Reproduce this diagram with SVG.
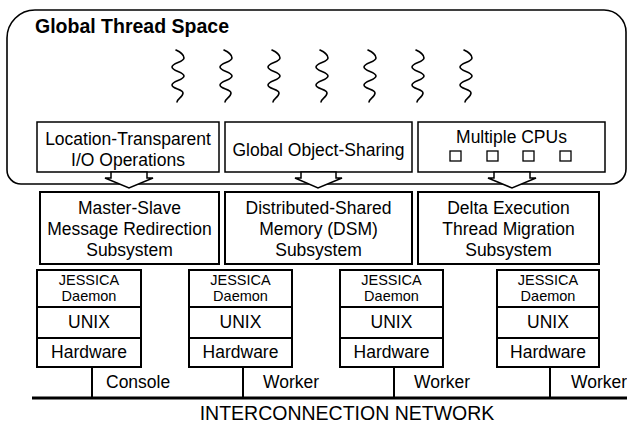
<svg xmlns="http://www.w3.org/2000/svg" width="627" height="423" viewBox="0 0 627 423">
<style>
text{font-family:"Liberation Sans",Arial,sans-serif;fill:#000;text-anchor:middle;font-size:17.5px}
.title{font-weight:bold;font-size:19.5px;text-anchor:start}
.small{font-size:14.5px}
.lbl{text-anchor:start}
.net{font-size:19.5px}
.box{fill:#fff;stroke:#000;stroke-width:1.5}
.mbox{fill:#fff;stroke:#000;stroke-width:2}
.arrow{fill:#fff;stroke:#000;stroke-width:1.5;stroke-linejoin:miter}
.sq{fill:none;stroke:#000;stroke-width:1.6;stroke-linecap:round}
.cpu{fill:#fff;stroke:#000;stroke-width:1.3}
.conn{stroke:#000;stroke-width:2;fill:none}
</style>
<defs>
<path id="squiggle" class="sq" d="M-2,-26 C2,-24 6,-22 6,-18 C6,-14 -6,-13 -6,-9 S6,-4 6,0 S-6,5 -6,9 S5,13 5,17 S-1,23 -1,26"/>
</defs>
<rect width="627" height="423" fill="#fff"/>

<g id="global-thread-space">
<path d="M35,10 H604 A22,22 0 0 1 626,32 V169 A15,15 0 0 1 611,184 H21 A14,14 0 0 1 7,170 V38 A28,28 0 0 1 35,10 Z" fill="#fff" stroke="#000" stroke-width="1.6"/>
<text class="title" x="35" y="33">Global Thread Space</text>
<use href="#squiggle" x="178" y="76"/>
<use href="#squiggle" x="226" y="76"/>
<use href="#squiggle" x="274" y="76"/>
<use href="#squiggle" x="322" y="76"/>
<use href="#squiggle" x="370" y="76"/>
<use href="#squiggle" x="418" y="76"/>
<use href="#squiggle" x="466" y="76"/>
</g>

<g id="io-ops">
<rect class="box" x="37" y="122" width="182" height="50"/>
<text x="128" y="145">Location-Transparent</text>
<text x="128" y="165.5">I/O Operations</text>
</g>
<g id="object-sharing">
<rect class="box" x="225" y="122" width="187" height="50"/>
<text x="318.5" y="156">Global Object-Sharing</text>
</g>
<g id="cpus">
<rect class="box" x="418" y="122" width="187" height="50"/>
<text x="511.5" y="143">Multiple CPUs</text>
<rect class="cpu" x="450" y="151" width="11" height="10"/>
<rect class="cpu" x="487" y="151" width="11" height="10"/>
<rect class="cpu" x="523" y="151" width="11" height="10"/>
<rect class="cpu" x="560" y="151" width="11" height="10"/>
</g>

<g id="connectors">
<polygon class="arrow" points="111,172 111,178 105,178 129,188 153,178 147,178 147,172"/>
<polygon class="arrow" points="301,172 301,178 295,178 318,188 342,178 336,178 336,172"/>
<polygon class="arrow" points="494,172 494,178 488,178 512,188 536,178 530,178 530,172"/>
<line class="conn" x1="92" y1="367" x2="92" y2="398"/>
<line class="conn" x1="243" y1="367" x2="243" y2="398"/>
<line class="conn" x1="394" y1="367" x2="394" y2="398"/>
<line class="conn" x1="550" y1="367" x2="550" y2="398"/>
<line x1="32" y1="398" x2="627" y2="398" stroke="#000" stroke-width="3"/>
</g>

<g id="master-slave">
<rect class="mbox" x="40" y="192" width="179" height="72"/>
<text x="129.5" y="214">Master-Slave</text>
<text x="129.5" y="235">Message Redirection</text>
<text x="129.5" y="256">Subsystem</text>
</g>
<g id="dsm">
<rect class="mbox" x="225" y="192" width="187" height="72"/>
<text x="318.5" y="214">Distributed-Shared</text>
<text x="318.5" y="235">Memory (DSM)</text>
<text x="318.5" y="256">Subsystem</text>
</g>
<g id="migration">
<rect class="mbox" x="418" y="192" width="181" height="72"/>
<text x="508.5" y="214">Delta Execution</text>
<text x="508.5" y="235">Thread Migration</text>
<text x="508.5" y="256">Subsystem</text>
</g>

<g id="node-console">
<rect class="mbox" x="37" y="270" width="104" height="97"/>
<line class="conn" x1="37" y1="307" x2="141" y2="307"/>
<line class="conn" x1="37" y1="338" x2="141" y2="338"/>
<text class="small" x="89" y="284.5">JESSICA</text>
<text class="small" x="89" y="301">Daemon</text>
<text x="89" y="328">UNIX</text>
<text x="89" y="358">Hardware</text>
<text class="lbl" x="106" y="388">Console</text>
</g>
<g id="node-worker1">
<rect class="mbox" x="189" y="270" width="103" height="97"/>
<line class="conn" x1="189" y1="307" x2="292" y2="307"/>
<line class="conn" x1="189" y1="338" x2="292" y2="338"/>
<text class="small" x="240.5" y="284.5">JESSICA</text>
<text class="small" x="240.5" y="301">Daemon</text>
<text x="240.5" y="328">UNIX</text>
<text x="240.5" y="358">Hardware</text>
<text class="lbl" x="263" y="388">Worker</text>
</g>
<g id="node-worker2">
<rect class="mbox" x="340" y="270" width="103" height="97"/>
<line class="conn" x1="340" y1="307" x2="443" y2="307"/>
<line class="conn" x1="340" y1="338" x2="443" y2="338"/>
<text class="small" x="391.5" y="284.5">JESSICA</text>
<text class="small" x="391.5" y="301">Daemon</text>
<text x="391.5" y="328">UNIX</text>
<text x="391.5" y="358">Hardware</text>
<text class="lbl" x="414" y="388">Worker</text>
</g>
<g id="node-worker3">
<rect class="mbox" x="497" y="270" width="102" height="97"/>
<line class="conn" x1="497" y1="307" x2="599" y2="307"/>
<line class="conn" x1="497" y1="338" x2="599" y2="338"/>
<text class="small" x="548" y="284.5">JESSICA</text>
<text class="small" x="548" y="301">Daemon</text>
<text x="548" y="328">UNIX</text>
<text x="548" y="358">Hardware</text>
<text class="lbl" x="571" y="388">Worker</text>
</g>

<g id="network">
<text class="net" x="347" y="420">INTERCONNECTION NETWORK</text>
</g>
</svg>
